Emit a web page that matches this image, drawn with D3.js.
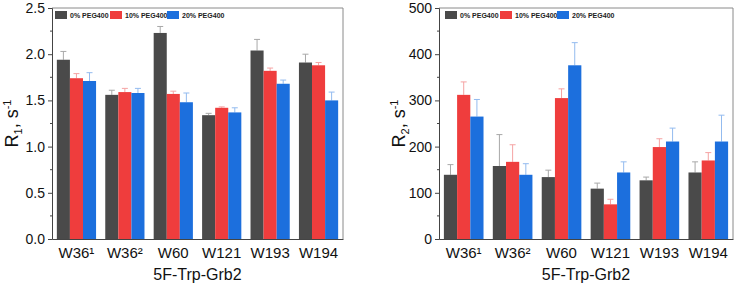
<!DOCTYPE html>
<html>
<head>
<meta charset="utf-8">
<script src="https://cdn.jsdelivr.net/npm/d3@7"></script>
<style>
  body { margin: 0; background: #fff; }
  svg { display: block; font-family: "Liberation Sans", Arial, sans-serif; }
</style>
</head>
<body>
<div id="chart"></div>
<script>
// Dữ liệu
const categories = ["W36¹", "W36²", "W60", "W121", "W193", "W194"];
const seriesNames = ["0% PEG400", "10% PEG400", "20% PEG400"];
const seriesColors = ["#4a4a4a", "#ef3d3d", "#1c6fdd"];
const errColors = ["#a8a8a8", "#f5a3a3", "#93bbef"];

// R1 (s^-1)
const r1Peg0 = [1.94, 1.56, 2.23, 1.34, 2.04, 1.91];
const r1Peg10 = [1.74, 1.59, 1.57, 1.42, 1.82, 1.88];
const r1Peg20 = [1.71, 1.58, 1.48, 1.37, 1.68, 1.50];
const r1Err0 = [0.09, 0.05, 0.07, 0.02, 0.12, 0.09];
const r1Err10 = [0.05, 0.04, 0.03, 0.01, 0.03, 0.03];
const r1Err20 = [0.09, 0.05, 0.10, 0.05, 0.04, 0.09];
const r1Ticks = [0, 0.5, 1.0, 1.5, 2.0, 2.5];

// R2 (s^-1)
const r2Peg0 = [139, 158, 134, 109, 127, 144];
const r2Peg10 = [312, 167, 305, 75, 199, 170];
const r2Peg20 = [265, 139, 376, 144, 211, 211];
const r2Err0 = [22, 68, 15, 12, 7, 23];
const r2Err10 = [28, 37, 20, 11, 18, 17];
const r2Err20 = [37, 24, 49, 23, 29, 57];
const r2Ticks = [0, 100, 200, 300, 400, 500];

const W = 735, H = 287;
const svg = d3.select("#chart").append("svg").attr("width", W).attr("height", H);

function drawPanel(opt) {
    const { left, right, top, bottom, values, errs, ticks, fmt, sub, legendX } = opt;
    const yMax = ticks[ticks.length - 1];
    const step = ticks[1] - ticks[0];

    const x0 = d3.scaleBand().domain(categories).range([left, right])
        .paddingInner(0.19).paddingOuter(0.1);
    const x1 = d3.scaleBand().domain(d3.range(seriesNames.length)).range([0, x0.bandwidth()]);
    const y = d3.scaleLinear().domain([0, yMax]).range([bottom, top]);

    const g = svg.append("g");

    // Khung phải + trên
    g.append("path")
        .attr("d", `M${left},${top}H${right}V${bottom}`)
        .attr("fill", "none").attr("stroke", "#8a8a8a").attr("stroke-width", 1);

    // Dữ liệu dạng hàng
    const rows = [];
    categories.forEach((c, i) => {
        values.forEach((s, k) => rows.push({ cat: c, k, v: s[i], e: errs[k][i] }));
    });

    // Thanh lỗi (chỉ nửa trên)
    const eb = g.selectAll(".err").data(rows).enter().append("g").attr("class", "err")
        .attr("stroke", d => errColors[d.k]).attr("stroke-width", 1);
    eb.append("line")
        .attr("x1", d => x0(d.cat) + x1(d.k) + x1.bandwidth() / 2)
        .attr("x2", d => x0(d.cat) + x1(d.k) + x1.bandwidth() / 2)
        .attr("y1", d => y(d.v)).attr("y2", d => y(d.v + d.e));
    eb.append("line")
        .attr("x1", d => x0(d.cat) + x1(d.k) + x1.bandwidth() / 2 - 3)
        .attr("x2", d => x0(d.cat) + x1(d.k) + x1.bandwidth() / 2 + 3)
        .attr("y1", d => y(d.v + d.e)).attr("y2", d => y(d.v + d.e));

    // Cột
    g.selectAll(".bar").data(rows).enter().append("rect").attr("class", "bar")
        .attr("x", d => x0(d.cat) + x1(d.k))
        .attr("width", x1.bandwidth())
        .attr("y", d => y(d.v))
        .attr("height", d => y(0) - y(d.v))
        .attr("fill", d => seriesColors[d.k]);

    // Trục Y
    const minor = d3.range(0, yMax + step / 4, step / 2).filter(v => !ticks.some(t => Math.abs(t - v) < 1e-9));
    const ya = g.append("g").attr("transform", `translate(${left},0)`)
        .call(d3.axisLeft(y).tickValues(ticks).tickFormat(fmt).tickSize(4).tickPadding(3));
    ya.selectAll("text").attr("font-size", 14).attr("fill", "#111").attr("font-family", "Liberation Sans, Arial, sans-serif");
    ya.select(".domain").attr("stroke", "#444");
    ya.selectAll(".tick line").attr("stroke", "#444");
    g.append("g").selectAll("line").data(minor).enter().append("line")
        .attr("x1", left - 2).attr("x2", left)
        .attr("y1", d => y(d)).attr("y2", d => y(d))
        .attr("stroke", "#444");

    // Trục X
    const xa = g.append("g").attr("transform", `translate(0,${bottom})`)
        .call(d3.axisBottom(x0).tickSize(0).tickPadding(8).tickSizeOuter(0));
    xa.select(".domain").attr("stroke", "#444");
    xa.selectAll("text").attr("font-size", 15).attr("fill", "#111").attr("font-family", "Liberation Sans, Arial, sans-serif");

    // Tiêu đề trục X
    g.append("text").attr("x", (left + right) / 2).attr("y", 280)
        .attr("text-anchor", "middle").attr("font-size", 16).attr("fill", "#111")
        .text("5F-Trp-Grb2");

    // Tiêu đề trục Y
    const yl = g.append("text")
        .attr("transform", `translate(${left - 34},${(top + bottom) / 2}) rotate(-90)`)
        .attr("text-anchor", "middle").attr("font-size", 18).attr("fill", "#111");
    yl.append("tspan").text("R");
    yl.append("tspan").attr("font-size", 11).attr("dy", 4).text(sub);
    yl.append("tspan").attr("dy", -4).text(", s");
    yl.append("tspan").attr("font-size", 11).attr("dy", -7).text("-1");

    // Chú thích
    const lg = g.append("g").attr("transform", `translate(${legendX},11)`);
    const offsets = [0, 55, 112];
    seriesNames.forEach((n, k) => {
        lg.append("rect").attr("x", offsets[k]).attr("y", 0).attr("width", 12).attr("height", 8)
            .attr("fill", seriesColors[k]);
        lg.append("text").attr("x", offsets[k] + 15).attr("y", 7)
            .attr("font-size", 7).attr("font-weight", "bold").attr("fill", "#222").text(n);
    });
}

drawPanel({
    left: 52, right: 343, top: 8, bottom: 239,
    values: [r1Peg0, r1Peg10, r1Peg20], errs: [r1Err0, r1Err10, r1Err20],
    ticks: r1Ticks, fmt: d3.format(".1f"), sub: "1", legendX: 55
});
drawPanel({
    left: 439, right: 733, top: 8, bottom: 239,
    values: [r2Peg0, r2Peg10, r2Peg20], errs: [r2Err0, r2Err10, r2Err20],
    ticks: r2Ticks, fmt: d3.format("d"), sub: "2", legendX: 445
});
</script>
</body>
</html>
